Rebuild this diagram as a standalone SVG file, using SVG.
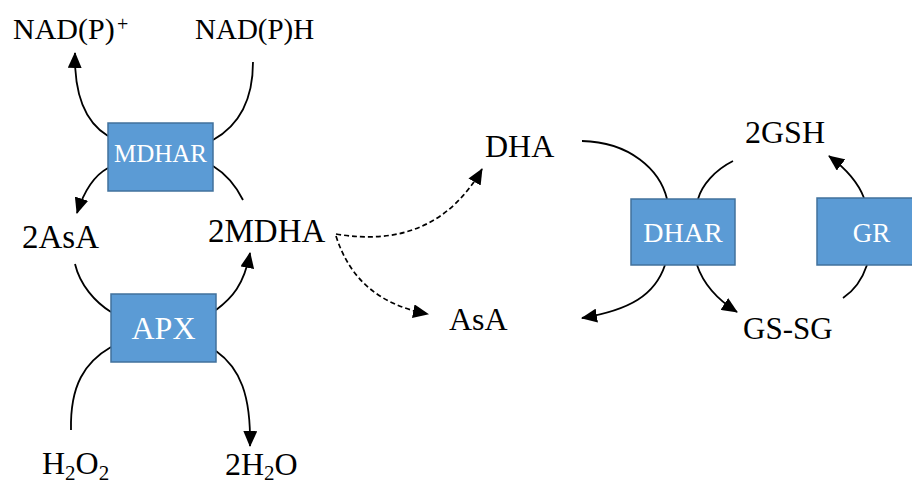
<svg xmlns="http://www.w3.org/2000/svg" width="912" height="484" viewBox="0 0 912 484">
  <style>
    .lbl { font-family: "Liberation Serif", "DejaVu Serif", serif; fill: #000; }
    .enz rect { fill: #5B9BD5; stroke: #41719C; stroke-width: 1.5; }
    .enz text { font-family: "Liberation Serif", "DejaVu Serif", serif; fill: #fff; text-anchor: middle; }
    .c { fill: none; stroke: #000; stroke-width: 1.8; }
    .c.arr { marker-end: url(#head); }
    .c.dash { stroke-dasharray: 5 3; stroke-width: 1.7; }
  </style>
  <defs>
    <marker id="head" markerUnits="userSpaceOnUse" markerWidth="16" markerHeight="14" viewBox="0 0 16 14" refX="15" refY="7" orient="auto">
      <path d="M0,0 L16,7 L0,14 z" fill="#000"/>
    </marker>
  </defs>

  <rect width="912" height="484" fill="#fff"/>

  <!-- connectors -->
  <g id="connectors">
    <!-- MDHAR -->
    <path class="c arr" d="M108,136 C88,124 74,100 75,53"/>
    <path class="c" d="M253,62 C253,100 240,125 213,140"/>
    <path class="c arr" d="M108,168 C95,175 85,188 77,213"/>
    <path class="c" d="M213,166 C226,174 236,186 243,200"/>
    <!-- APX -->
    <path class="c" d="M75,264 C80,285 95,302 111,312"/>
    <path class="c arr" d="M216,310 C232,298 244,285 250,253"/>
    <path class="c" d="M111,347 C85,362 70,385 71,430"/>
    <path class="c arr" d="M216,351 C240,368 251,395 250,446"/>
    <!-- non-enzymatic MDHA disproportionation -->
    <path class="c dash arr" d="M336,234 C400,245 450,225 482,169"/>
    <path class="c dash arr" d="M336,236 C350,280 380,305 428,314"/>
    <!-- DHAR -->
    <path class="c" d="M582,141 C630,142 660,170 667,199"/>
    <path class="c" d="M733,161 C715,170 702,185 698,199"/>
    <path class="c arr" d="M665,265 C655,295 630,310 582,318"/>
    <path class="c arr" d="M697,265 C703,283 715,298 737,312"/>
    <!-- GR -->
    <path class="c arr" d="M864,198 C858,182 845,168 829,156"/>
    <path class="c" d="M867,265 C862,280 855,290 843,298"/>
  </g>

  <!-- enzymes -->
  <g id="mdhar" class="enz">
    <rect x="108" y="123" width="105" height="68"/>
    <text x="160.5" y="162" font-size="25">MDHAR</text>
  </g>
  <g id="apx" class="enz">
    <rect x="111" y="294" width="105" height="68"/>
    <text x="163.5" y="339" font-size="32">APX</text>
  </g>
  <g id="dhar" class="enz">
    <rect x="631" y="199" width="104" height="66"/>
    <text x="683" y="242" font-size="28">DHAR</text>
  </g>
  <g id="gr" class="enz">
    <rect x="817" y="198" width="105" height="67"/>
    <text x="871.5" y="242" font-size="27">GR</text>
  </g>

  <!-- metabolites -->
  <g id="nadp-ox">
    <text class="lbl" x="13" y="39" font-size="30">NAD(P)<tspan x="117" y="31" font-size="20">+</tspan></text>
  </g>
  <g id="nadph">
    <text class="lbl" x="195" y="39" font-size="29">NAD(P)H</text>
  </g>
  <g id="asa2">
    <text class="lbl" x="22" y="248" font-size="33">2AsA</text>
  </g>
  <g id="mdha2">
    <text class="lbl" x="208" y="242" font-size="33">2MDHA</text>
  </g>
  <g id="h2o2">
    <text class="lbl" x="42" y="474" font-size="32">H<tspan y="480" font-size="21">2</tspan><tspan y="474">O</tspan><tspan y="480" font-size="21">2</tspan></text>
  </g>
  <g id="h2o">
    <text class="lbl" x="225" y="475" font-size="32">2H<tspan y="480" font-size="21">2</tspan><tspan y="475">O</tspan></text>
  </g>
  <g id="dha">
    <text class="lbl" x="485" y="157" font-size="32">DHA</text>
  </g>
  <g id="asa">
    <text class="lbl" x="449" y="330" font-size="32">AsA</text>
  </g>
  <g id="gsh2">
    <text class="lbl" x="745" y="143" font-size="32">2GSH</text>
  </g>
  <g id="gssg">
    <text class="lbl" x="743" y="339" font-size="31">GS-SG</text>
  </g>
</svg>
